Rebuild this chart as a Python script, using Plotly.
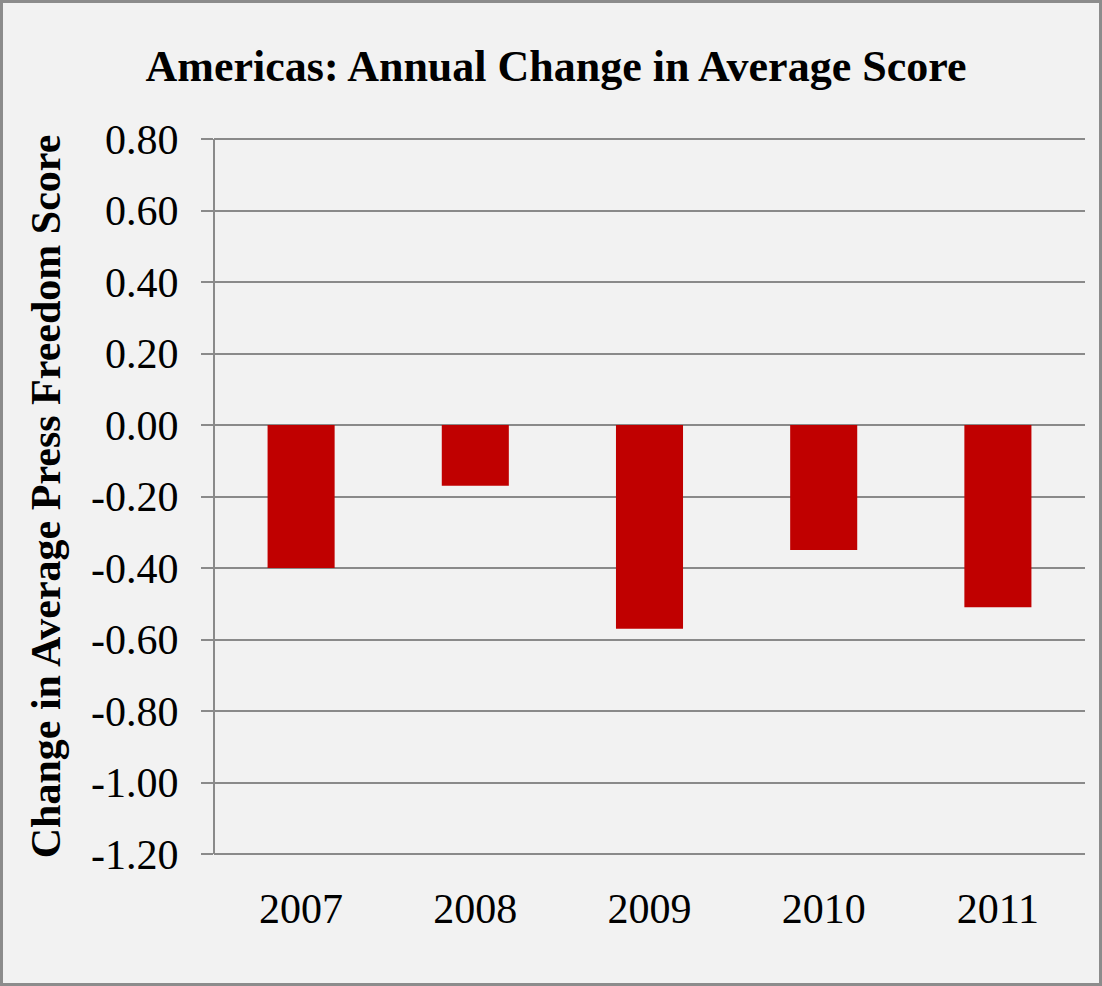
import plotly.graph_objects as go

years = ["2007", "2008", "2009", "2010", "2011"]
changes = [-0.40, -0.17, -0.57, -0.35, -0.51]
y_ticks = [0.80, 0.60, 0.40, 0.20, 0.00, -0.20, -0.40, -0.60, -0.80, -1.00, -1.20]
y_tick_labels = ["0.80", "0.60", "0.40", "0.20", "0.00", "-0.20", "-0.40", "-0.60", "-0.80", "-1.00", "-1.20"]

W, H = 1102, 986
L, R, T, B = 214, 17, 137, 130
pw, ph = W - L - R, H - T - B

fig = go.Figure()
fig.add_trace(go.Bar(x=years, y=changes, marker=dict(color="#c00000", line=dict(width=0))))

grid = "#8a8a8a"
serif = "Liberation Serif, Times New Roman, serif"

fig.update_layout(
    width=W, height=H,
    margin=dict(l=L, r=R, t=T, b=B, pad=0),
    paper_bgcolor="#f2f2f2", plot_bgcolor="#f2f2f2",
    bargap=0.615,
    showlegend=False,
    font=dict(family=serif, color="#000000"),
    title=dict(text="<b>Americas: Annual Change in Average Score</b>",
               x=(556 - L) / pw, xref="paper", xanchor="center", y=1 - 66 / H, yanchor="middle",
               font=dict(family=serif, size=44, color="#000000")),
    xaxis=dict(type="category", showgrid=False, showline=False, ticks="",
               tickfont=dict(size=42), ticklabelstandoff=24),
    yaxis=dict(range=[-1.2056, 0.8056], tickvals=y_ticks, ticktext=y_tick_labels,
               showgrid=True, gridcolor=grid, gridwidth=2,
               showline=False,
               ticks="outside", ticklen=12, tickcolor=grid, tickwidth=2,
               zeroline=False, tickfont=dict(size=42), ticklabelstandoff=14,
               title=dict(text="<b>Change in Average Press Freedom Score</b>",
                          font=dict(family=serif, size=42), standoff=17)),
)

# vertical axis line spanning exactly 0.80 to -1.20
fig.add_shape(type="line", xref="paper", yref="y", x0=0, x1=0,
              y0=y_ticks[-1], y1=y_ticks[0], line=dict(color=grid, width=2))

# outer frame
fig.add_shape(type="rect", xref="paper", yref="paper",
              x0=(1.5 - L) / pw, x1=(W - 1.5 - L) / pw,
              y0=-(H - 1.5 - T - ph) / ph, y1=1 + (T - 1.5) / ph,
              line=dict(color="#8c8c8c", width=3), fillcolor="rgba(0,0,0,0)", layer="above")

fig.write_html("out.html", config={"displayModeBar": False},
               post_script="document.body.style.margin='0px';document.body.style.overflow='hidden';")
